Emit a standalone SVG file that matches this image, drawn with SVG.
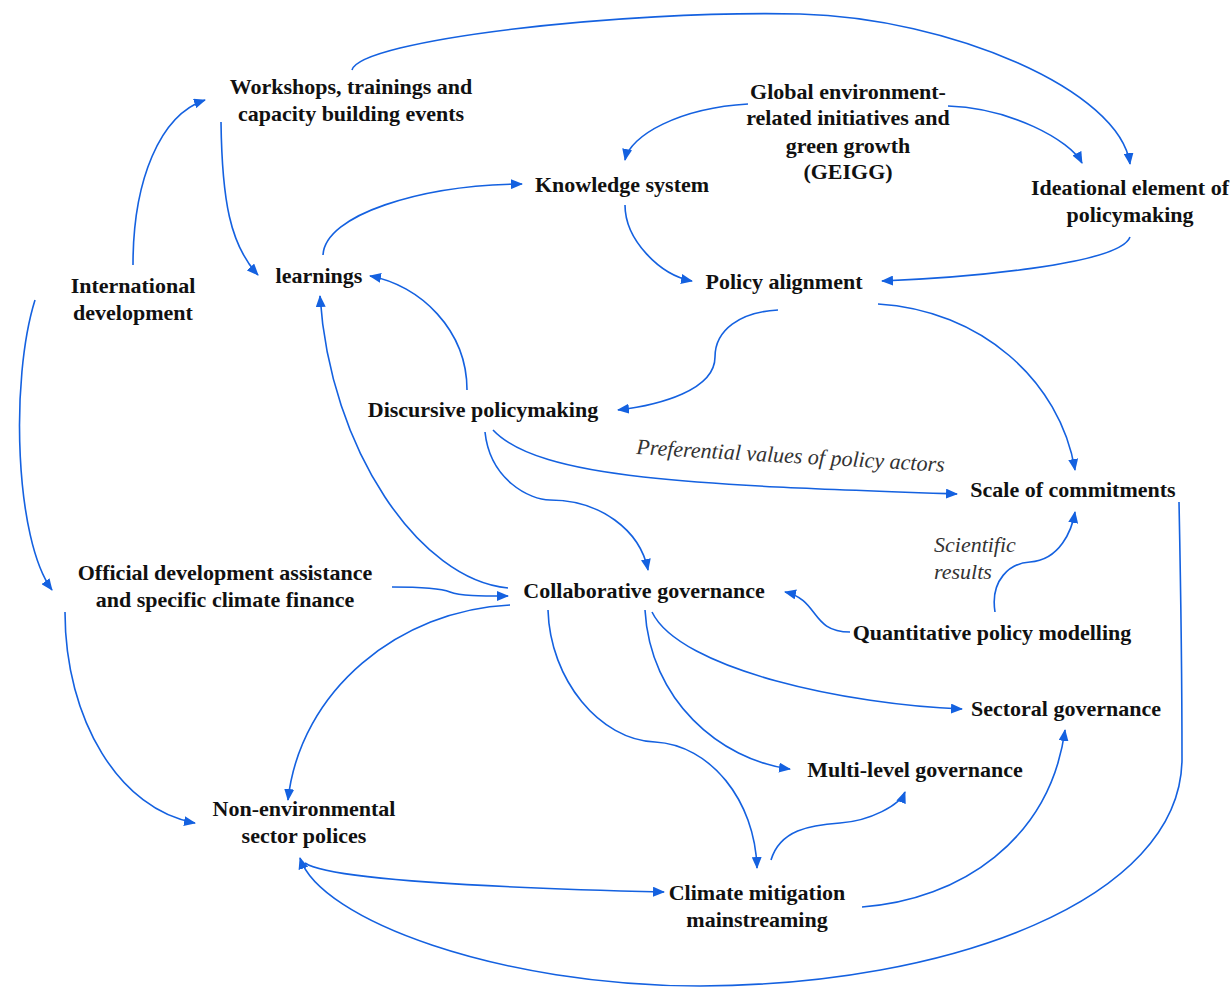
<svg xmlns="http://www.w3.org/2000/svg" width="1232" height="989" viewBox="0 0 1232 989">
<defs>
<marker id="ah" viewBox="0 0 12 10" refX="11" refY="5" markerWidth="12" markerHeight="10" markerUnits="userSpaceOnUse" orient="auto">
<path d="M0,0 L12,5 L0,10 Z" fill="#1461e0"/>
</marker>
<style>
.n{font-family:"Liberation Serif","Times New Roman",serif;font-weight:bold;font-size:22px;fill:#111;text-anchor:middle}
.i{font-family:"Liberation Serif","Times New Roman",serif;font-style:italic;font-size:22px;fill:#333}
.e{fill:none;stroke:#1461e0;stroke-width:1.6;marker-end:url(#ah)}
</style>
</defs>
<rect width="1232" height="989" fill="#fff"/>
<g id="connectors">
<path class="e" d="M352,70 C360,40 620,10 800,14 C950,18 1120,90 1130,164"/>
<path class="e" d="M133,265 C133,180 160,115 205,100"/>
<path class="e" d="M221,122 C222,200 230,245 258,275"/>
<path class="e" d="M323,255 C325,215 420,185 522,184"/>
<path class="e" d="M748,104 C680,108 630,135 625,160"/>
<path class="e" d="M948,106 C1010,108 1070,140 1082,163"/>
<path class="e" d="M625,205 C625,240 660,275 692,281"/>
<path class="e" d="M1130,237 C1120,265 960,278 882,281"/>
<path class="e" d="M778,310 C740,312 715,330 715,357 C715,390 660,405 618,410"/>
<path class="e" d="M878,304 C980,310 1060,380 1075,470"/>
<path class="e" d="M467,390 C467,330 420,285 370,276"/>
<path class="e" d="M508,588 C420,580 330,450 320,296"/>
<path class="e" d="M35,300 C10,380 15,540 52,590"/>
<path class="e" d="M392,587 C420,587 440,588 450,592 C460,596 480,596 508,596"/>
<path class="e" d="M510,605 C400,610 300,690 288,800"/>
<path class="e" d="M65,612 C65,720 120,810 195,823"/>
<path class="e" d="M485,432 C490,480 530,500 550,500 C600,500 640,530 648,570"/>
<path class="e" d="M493,430 C540,480 700,485 957,494"/>
<path class="e" d="M850,632 C810,632 820,600 785,592"/>
<path class="e" d="M995,612 C990,580 1010,563 1030,562 C1060,560 1072,530 1075,512"/>
<path class="e" d="M652,612 C680,670 850,705 962,709"/>
<path class="e" d="M645,610 C650,700 720,760 790,769"/>
<path class="e" d="M548,610 C550,680 600,740 655,742 C710,745 755,800 757,868"/>
<path class="e" d="M771,860 C780,830 810,825 840,823 C870,821 900,805 905,792"/>
<path class="e" d="M862,907 C960,900 1050,840 1065,730"/>
<path class="e" d="M1179,502 C1181,600 1182,700 1182,760 C1180,900 950,985 700,986 C500,986 320,920 300,858"/>
<path class="e" d="M305,863 C330,880 500,888 664,892"/>
</g>
<g id="workshops"><text class="n" x="351" y="94">Workshops, trainings and</text><text class="n" x="351" y="121">capacity building events</text></g>
<g id="geigg"><text class="n" x="848" y="99">Global environment-</text><text class="n" x="848" y="125">related initiatives and</text><text class="n" x="848" y="153">green growth</text><text class="n" x="848" y="179">(GEIGG)</text></g>
<g id="knowledge"><text class="n" x="622" y="192">Knowledge system</text></g>
<g id="ideational"><text class="n" x="1130" y="195">Ideational element of</text><text class="n" x="1130" y="222">policymaking</text></g>
<g id="international"><text class="n" x="133" y="293">International</text><text class="n" x="133" y="320">development</text></g>
<g id="learnings"><text class="n" x="319" y="283">learnings</text></g>
<g id="policy-alignment"><text class="n" x="784" y="289">Policy alignment</text></g>
<g id="discursive"><text class="n" x="483" y="417">Discursive policymaking</text></g>
<g id="label-pref"><text class="i" x="636" y="454" transform="rotate(3.3 636 454)">Preferential values of policy actors</text></g>
<g id="scale"><text class="n" x="1073" y="497">Scale of commitments</text></g>
<g id="label-sci"><text class="i" x="934" y="552">Scientific</text><text class="i" x="934" y="579">results</text></g>
<g id="oda"><text class="n" x="225" y="580">Official development assistance</text><text class="n" x="225" y="607">and specific climate finance</text></g>
<g id="collaborative"><text class="n" x="644" y="598">Collaborative governance</text></g>
<g id="quantitative"><text class="n" x="992" y="640">Quantitative policy modelling</text></g>
<g id="sectoral"><text class="n" x="1066" y="716">Sectoral governance</text></g>
<g id="multilevel"><text class="n" x="915" y="777">Multi-level governance</text></g>
<g id="nonenv"><text class="n" x="304" y="816">Non-environmental</text><text class="n" x="304" y="843">sector polices</text></g>
<g id="climate"><text class="n" x="757" y="900">Climate mitigation</text><text class="n" x="757" y="927">mainstreaming</text></g>
</svg>
